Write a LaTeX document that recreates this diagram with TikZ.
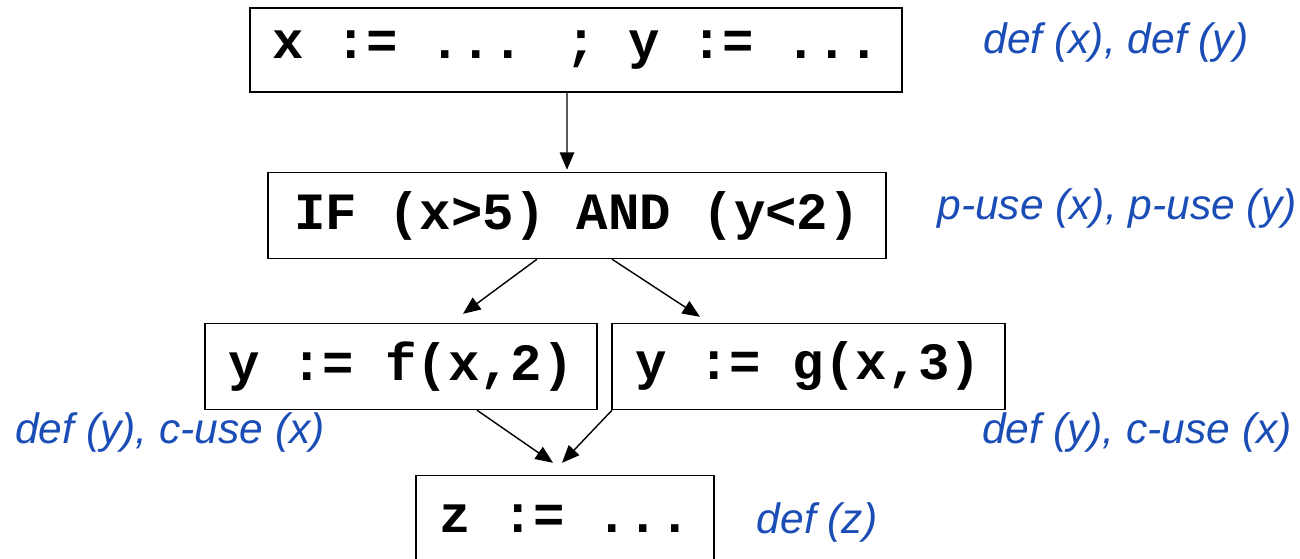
\documentclass[tikz,border=0pt]{standalone}
\usepackage{fontspec}
\setmainfont{Liberation Sans}
\newfontfamily\codefont{Liberation Mono}
\usepackage{xcolor}
\usetikzlibrary{arrows.meta,positioning}
\definecolor{annblue}{HTML}{1A4DB5}

\begin{document}
\begin{tikzpicture}[
        stmt/.style={draw=black, line width=0.8pt, inner sep=0pt, minimum height=1.72cm,
            font=\codefont\bfseries\fontsize{29.8}{32}\selectfont},
        annot/.style={text=annblue, font=\itshape\fontsize{24.2}{26}\selectfont, inner sep=0pt},
        flow/.style={-{Triangle[length=3.5mm,width=2.9mm]}, line width=0.8pt}
    ]
        \useasboundingbox (0,0) rectangle (26,11.16);

        % Statements
        \node[stmt, minimum width=13.04cm, minimum height=1.68cm] (init) at (11.52,10.16) {x := ... ; y := ...};
        \node[stmt, minimum width=12.36cm] (cond) at (11.54,6.85) {IF (x>5) AND (y<2)};
        \node[stmt, minimum width=7.84cm] (thenb) at (8.02,3.83) {y := f(x,2)};
        \node[stmt, minimum width=7.86cm] (elseb) at (16.17,3.83) {y := g(x,3)};
        \node[stmt, minimum width=5.96cm, text depth=0pt] (join) at (11.3,0.79) {z := ...};

        % Def/use annotations
        \node[annot] (a1) at (22.32,10.3) {def (x), def (y)};
        \node[annot] (a2) at (22.34,6.98) {p-use (x), p-use (y)};
        \node[annot] (a3) at (3.4,2.5) {def (y), c-use (x)};
        \node[annot] (a4) at (22.74,2.5) {def (y), c-use (x)};
        \node[annot] (a5) at (16.34,0.72) {def (z)};

        % Control flow
        \draw[flow] ([xshift=-1.8mm]init.south) -- ([xshift=-2mm,yshift=0.4mm]cond.north);
        \draw[flow] ([xshift=-8mm]cond.south) -- ([xshift=12.4mm,yshift=1.8mm]thenb.north);
        \draw[flow] ([xshift=7mm]cond.south) -- ([xshift=-21.7mm,yshift=1.2mm]elseb.north);
        \draw[flow] ([xshift=15.2mm]thenb.south) -- ([xshift=-2.4mm,yshift=2.4mm]join.north);
        \draw[flow] ([xshift=-39.3mm]elseb.south) -- ([xshift=-0.6mm,yshift=2.4mm]join.north);
    \end{tikzpicture}
\end{document}
